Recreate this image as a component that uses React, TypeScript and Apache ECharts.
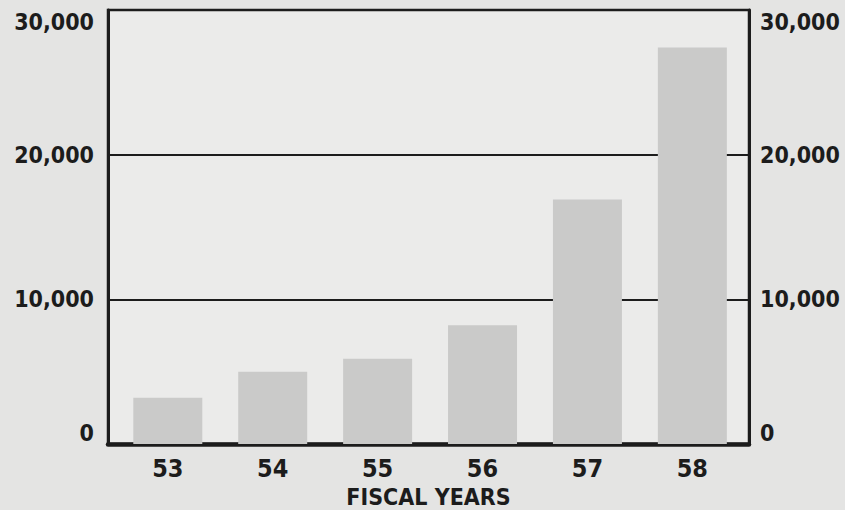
import React, { useEffect, useRef } from "react";
import * as echarts from "echarts";

const categories = ["53", "54", "55", "56", "57", "58"];
const values = [3200, 5000, 5900, 8200, 16900, 27400];
const yTickValues = [0, 10000, 20000, 30000];
const yTickLabels = ["0", "10,000", "20,000", "30,000"];
const xAxisTitle = "FISCAL YEARS";

const FONT = "'DejaVu Sans Condensed', 'DejaVu Sans', sans-serif";
const INK = "#1c1c1c";

function tickLabel(v: number): string {
  const i = yTickValues.indexOf(v);
  return i >= 0 ? yTickLabels[i] : "";
}

export default function App() {
  const ref = useRef<HTMLDivElement>(null);
  useEffect(() => {
    if (!ref.current) return;
    const chart = echarts.init(ref.current, undefined, { renderer: "svg" });
    const catIdx = categories.map((_, i) => i);
    const yCommon = {
      type: "value" as const,
      min: 0,
      max: 30000,
      interval: 10000,
      axisTick: { show: false },
      axisLine: { show: true, onZero: false, lineStyle: { color: INK, width: 3 } },
    };
    chart.setOption({
      animation: false,
      backgroundColor: "#e4e4e3",
      grid: {
        left: 108,
        right: 96,
        top: 10,
        bottom: 66,
        show: true,
        backgroundColor: "#ebebea",
        borderColor: INK,
        borderWidth: 2.5,
        containLabel: false,
        outerBoundsMode: "none",
      } as any,
      xAxis: {
        type: "value",
        min: -0.57,
        max: 5.54,
        splitLine: { show: false },
        axisTick: { show: false },
        axisLine: { show: true, onZero: false, lineStyle: { color: INK, width: 4.5 } },
        axisLabel: {
          customValues: catIdx,
          margin: 12,
          fontFamily: FONT,
          fontWeight: "bold",
          fontSize: 25,
          color: INK,
          formatter: (v: number) => categories[Math.round(v)] ?? "",
        } as any,
        name: xAxisTitle,
        nameLocation: "middle",
        nameGap: 41,
        nameTextStyle: {
          fontFamily: FONT,
          fontWeight: "bold",
          fontSize: 23,
          lineHeight: 23,
          color: INK,
          letterSpacing: 1.7,
        } as any,
      },
      yAxis: [
        {
          ...yCommon,
          position: "left",
          splitLine: { show: true, lineStyle: { color: INK, width: 2.2 } },
          axisLabel: {
            margin: 14,
            fontFamily: FONT,
            fontWeight: "bold",
            fontSize: 23,
            color: INK,
            formatter: (v: number) => tickLabel(v),
            verticalAlignMinLabel: "bottom",
            verticalAlignMaxLabel: "top",
          } as any,
        },
        {
          ...yCommon,
          position: "right",
          splitLine: { show: false },
          axisLabel: {
            margin: 11,
            fontFamily: FONT,
            fontWeight: "bold",
            fontSize: 23,
            color: INK,
            formatter: (v: number) => tickLabel(v),
            verticalAlignMinLabel: "bottom",
            verticalAlignMaxLabel: "top",
          } as any,
        },
      ],
      series: [
        {
          type: "bar",
          data: values.map((v, i) => [catIdx[i], v]),
          barWidth: 69,
          itemStyle: { color: "#cacac9" },
          yAxisIndex: 0,
        },
      ],
    });
    return () => chart.dispose();
  }, []);
  return (
    <div
      ref={ref}
      style={{ position: "fixed", left: 0, top: 0, width: 845, height: 510 }}
    />
  );
}
